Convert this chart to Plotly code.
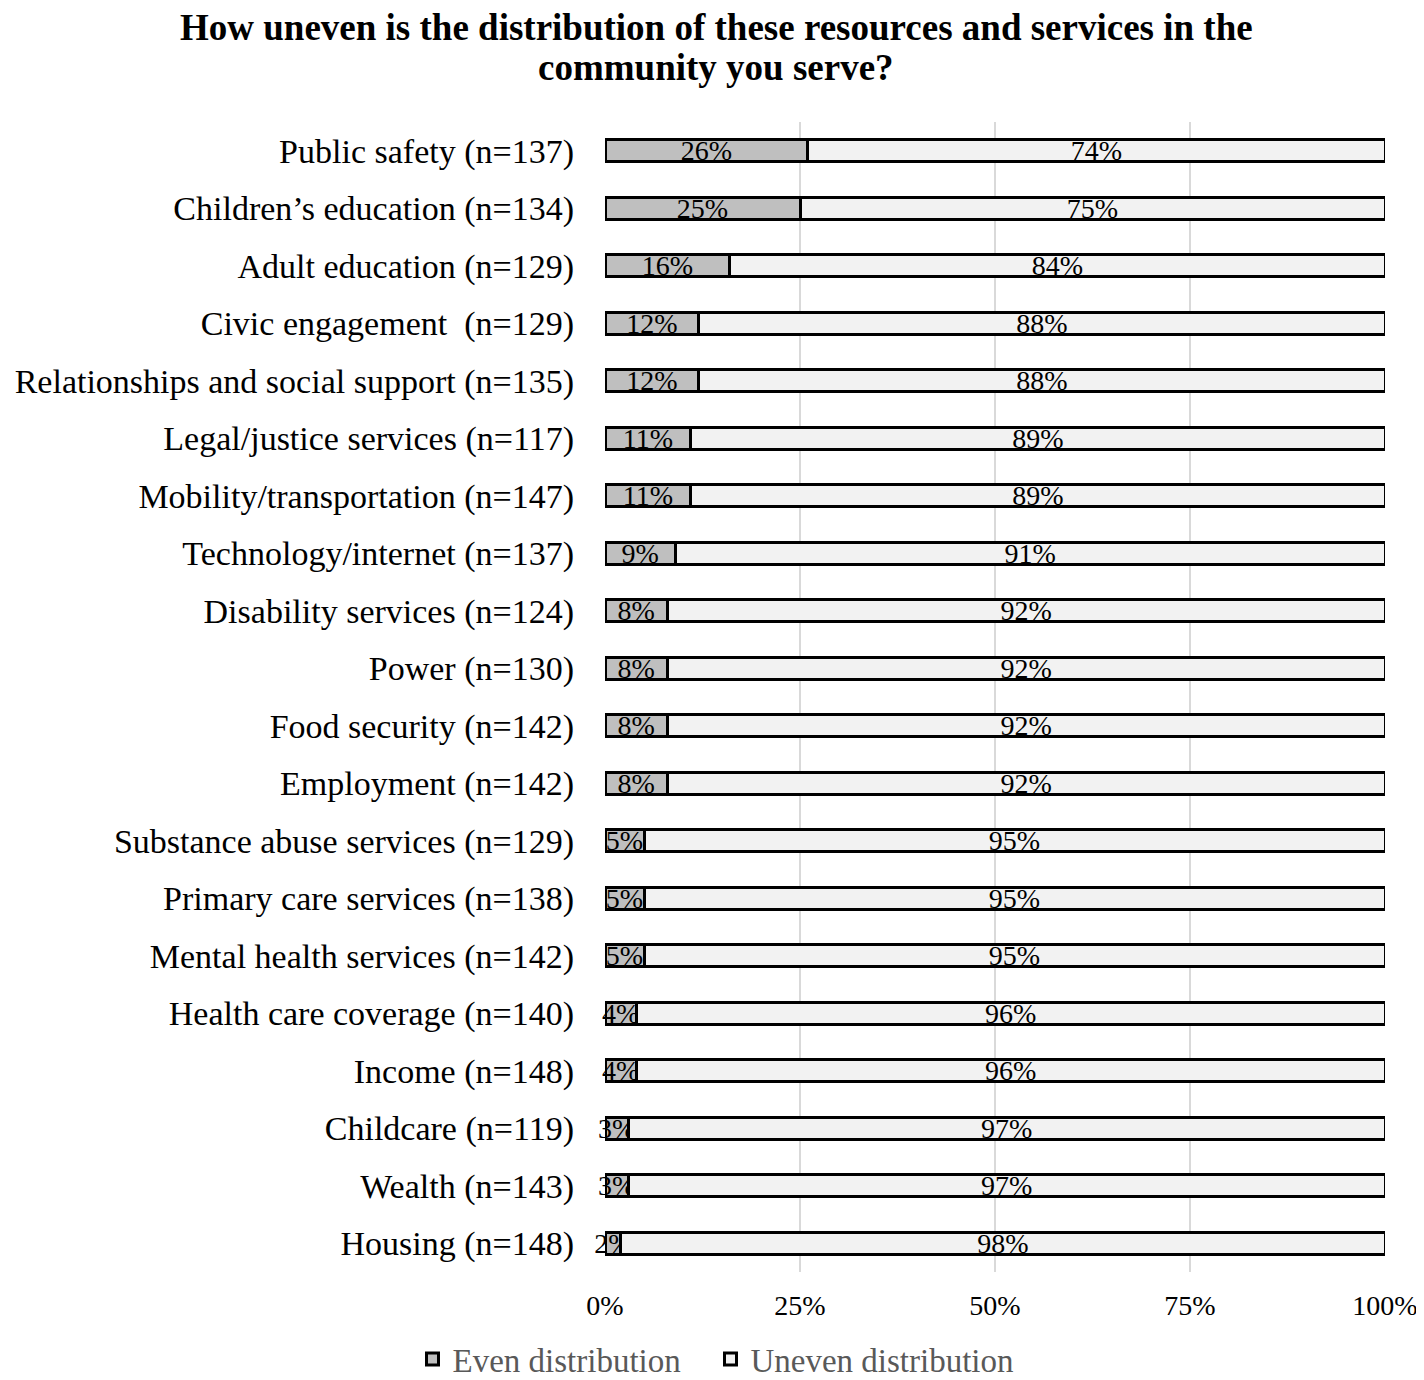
import plotly.graph_objects as go

# Categories (top to bottom as in the chart)
categories = [
    "Public safety (n=137)",
    "Children’s education (n=134)",
    "Adult education (n=129)",
    "Civic engagement  (n=129)",
    "Relationships and social support (n=135)",
    "Legal/justice services (n=117)",
    "Mobility/transportation (n=147)",
    "Technology/internet (n=137)",
    "Disability services (n=124)",
    "Power (n=130)",
    "Food security (n=142)",
    "Employment (n=142)",
    "Substance abuse services (n=129)",
    "Primary care services (n=138)",
    "Mental health services (n=142)",
    "Health care coverage (n=140)",
    "Income (n=148)",
    "Childcare (n=119)",
    "Wealth (n=143)",
    "Housing (n=148)",
]
even = [26, 25, 16, 12, 12, 11, 11, 9, 8, 8, 8, 8, 5, 5, 5, 4, 4, 3, 3, 2]
uneven = [74, 75, 84, 88, 88, 89, 89, 91, 92, 92, 92, 92, 95, 95, 95, 96, 96, 97, 97, 98]

tick_vals = [0, 25, 50, 75, 100]
tick_text = ["0%", "25%", "50%", "75%", "100%"]

serif = "Liberation Serif, Times New Roman, serif"
nb = "\u00a0"

fig = go.Figure()

fig.add_trace(go.Bar(
    y=categories, x=even, orientation="h", name="Even distribution" + nb * 3,
    marker=dict(color="#bfbfbf", line=dict(color="black", width=3)),
    text=[f"{v}%" for v in even], textposition="inside", textangle=0,
    insidetextanchor="middle", constraintext="none",
    textfont=dict(family=serif, size=28, color="black"),
    cliponaxis=False,
))
fig.add_trace(go.Bar(
    y=categories, x=uneven, orientation="h", name="Uneven distribution",
    marker=dict(color="#f2f2f2", line=dict(color="black", width=3)),
    text=[f"{v}%" for v in uneven], textposition="inside", textangle=0,
    insidetextanchor="middle", constraintext="none",
    textfont=dict(family=serif, size=28, color="black"),
    cliponaxis=False,
))

# page has an 8px body margin: figure is 1416x1372 drawn at (8, 8)
# plot area in page pixels: x 605..1385, y 122..1272
title_lines = [
    ("How uneven is the distribution of these resources and services in the", 27),
    ("community you serve?", 67),
]
for line, ypix in title_lines:
    fig.add_annotation(
        text=line, xref="paper", yref="paper",
        x=(716 - 605) / 780, y=(1272 - ypix) / 1150,
        xanchor="center", yanchor="middle", showarrow=False,
        font=dict(family=serif, size=37, color="black", weight="bold"),
    )

fig.update_layout(
    width=1416, height=1372,
    barmode="stack", bargap=0.62,
    plot_bgcolor="white", paper_bgcolor="white",
    margin=dict(l=597, r=39, t=114, b=108, autoexpand=False),
    font=dict(family=serif, color="black"),
    xaxis=dict(
        range=[0, 100], tickvals=tick_vals, ticktext=tick_text,
        showgrid=True, gridcolor="#d9d9d9", gridwidth=2,
        zeroline=False, showline=False, automargin=False,
        tickfont=dict(family=serif, size=28, color="black"),
        ticklabelstandoff=14,
    ),
    yaxis=dict(
        autorange="reversed", showgrid=False, zeroline=False, showline=False,
        automargin=False,
        tickfont=dict(family=serif, size=34, color="black"),
        ticklabelstandoff=30,
    ),
    legend=dict(
        orientation="h", xref="container", yref="paper",
        x=0.5, xanchor="center", y=(1272 - 1359) / 1150, yanchor="middle",
        font=dict(family=serif, size=33, color="#595959"),
        traceorder="normal", itemwidth=30,
    ),
)

fig.write_html("out.html")
